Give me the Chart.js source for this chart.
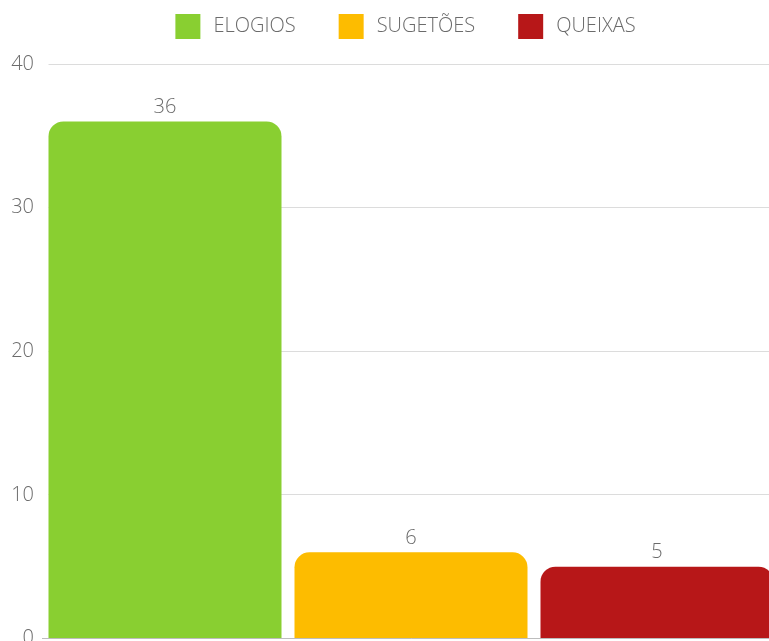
<!DOCTYPE html>
<html>
<head>
<meta charset="utf-8">
<script src="https://cdn.jsdelivr.net/npm/chart.js@4"></script>
<style>
  html, body { margin: 0; padding: 0; overflow: hidden; background: #fff; }
  #wrap { position: absolute; left: 0; top: 0; }
</style>
</head>
<body>
<div id="wrap"><canvas id="myBarChart" width="808" height="660"></canvas></div>
<script>
var seriesNames = ['ELOGIOS', 'SUGETÕES', 'QUEIXAS'];
var seriesValues = [36, 6, 5];
var seriesColors = ['#89cf31', '#fdbc00', '#b71718'];
var yTicks = [0, 10, 20, 30, 40];

var textColor = '#6b6b6b';
var fontFamily = '"Open Sans", sans-serif';

var valueLabels = {
	id: 'valueLabels',
	beforeDatasetsDraw: function(chart) {
		// grid lines start where the first bar starts
		var a = chart.chartArea;
		var ctx = chart.ctx;
		ctx.save();
		ctx.fillStyle = '#ffffff';
		ctx.fillRect(a.left - 1, a.top - 2, 7.5, a.bottom - a.top);
		ctx.restore();
	},
	afterDatasetsDraw: function(chart) {
		// value above each bar
		var ctx = chart.ctx;
		ctx.save();
		ctx.font = '300 20px ' + fontFamily;
		ctx.fillStyle = textColor;
		ctx.textAlign = 'center';
		ctx.textBaseline = 'bottom';
		chart.data.datasets.forEach(function(ds, i) {
			var bar = chart.getDatasetMeta(i).data[0];
			ctx.fillText(ds.data[0], bar.x, bar.y - 4);
		});
		ctx.restore();
	}
};

var ctx = document.getElementById('myBarChart');
var myBarChart = new Chart(ctx, {
	type: 'bar',
	data: {
		labels: [''],
		datasets: seriesNames.map(function(name, i) {
			return {
				label: name,
				data: [seriesValues[i]],
				backgroundColor: seriesColors[i],
				borderWidth: 0,
				borderRadius: { topLeft: 15, topRight: 15, bottomLeft: 0, bottomRight: 0 },
				categoryPercentage: 1,
				barPercentage: 233 / 246
			};
		})
	},
	plugins: [valueLabels],
	options: {
		responsive: false,
		animation: false,
		layout: { padding: { top: -29, left: 0, right: 0, bottom: 0 } },
		plugins: {
			legend: {
				display: true,
				labels: {
					color: textColor,
					font: { family: fontFamily, size: 20, weight: '300' },
					boxWidth: 31,
					boxHeight: 31,
					padding: 40,
					generateLabels: function(chart) {
						var items = Chart.defaults.plugins.legend.labels.generateLabels(chart);
						items.forEach(function(it) {
							it.strokeStyle = '#ffffff';
							it.lineWidth = 6;
						});
						return items;
					}
				}
			},
			tooltip: { enabled: false }
		},
		scales: {
			x: {
				grid: { display: false },
				border: { display: true, color: '#bdbdbd' },
				ticks: { display: false },
				afterFit: function(scale) { scale.height = 21.5; }
			},
			xTop: {
				position: 'top',
				grid: { display: false },
				border: { display: false },
				ticks: { display: false },
				afterFit: function(scale) { scale.height = 12; }
			},
			y: {
				min: yTicks[0],
				max: yTicks[yTicks.length - 1],
				afterBuildTicks: function(scale) {
					scale.ticks = yTicks.map(function(v) { return { value: v }; });
				},
				grid: { color: '#dcdcdc', drawTicks: false },
				border: { display: false },
				ticks: {
					color: textColor,
					font: { family: fontFamily, size: 20, weight: '300' },
					padding: 8
				},
				afterFit: function(scale) { scale.width = 42; }
			},
			yRight: {
				position: 'right',
				grid: { display: false },
				border: { display: false },
				ticks: { display: false },
				afterFit: function(scale) { scale.width = 28; }
			}
		}
	}
});
</script>
</body>
</html>
